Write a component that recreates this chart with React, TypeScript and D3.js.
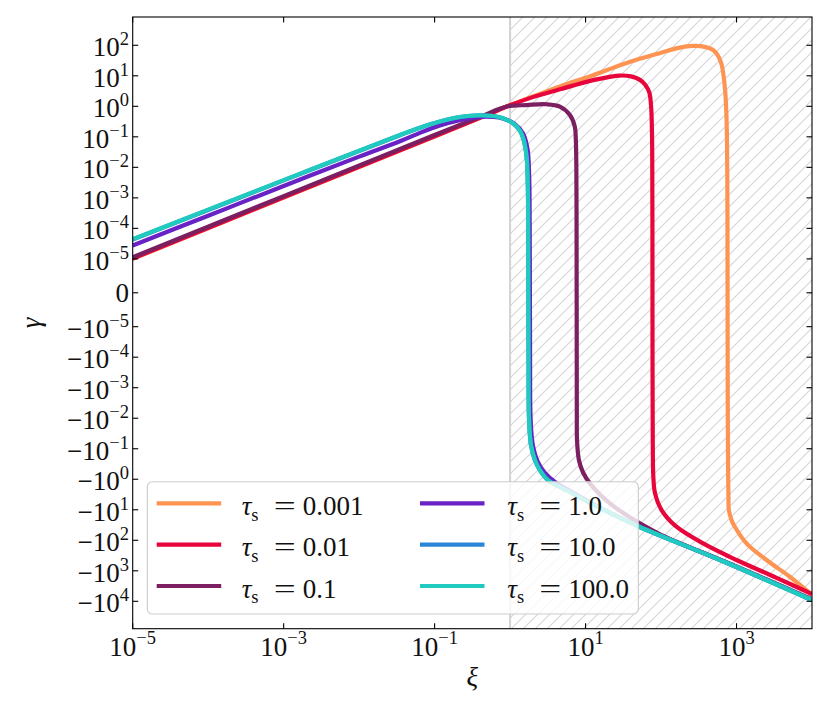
import React from "react";
import * as d3 from "d3";

type Pt = [number, number];

// values: [xi, gamma]
const TAU_LABELS = ["0.001", "0.01", "0.1", "1.0", "10.0", "100.0"];
const COLORS = ["#fe9452", "#e8053c", "#7b1f61", "#6822c6", "#2c86d8", "#20cabe"];

const tau0001: Pt[] = [
  [1e-5, 1.0e-5], [1e-3, 1.02e-3], [0.1, 0.103], [0.5, 0.53], [1, 1.1], [2, 2.1],
  [4.57, 4.5], [12.6, 10.5], [30, 23], [52, 36], [100, 57], [170, 82], [266, 95],
  [380, 89], [490, 70], [570, 45], [630, 25], [670, 11], [705, 3.5], [730, 0.8],
  [748, 0.08], [756, 3e-3], [760, 1e-5], [762, -1e-5], [765, -3e-3], [770, -0.08],
  [776, -1], [782, -4], [791, -10.2], [860, -22], [949, -35.9], [1355, -126], [2495, -443],
  [5080, -1563], [1e4, -6220],
];

const tau001: Pt[] = [
  [1e-5, 1.03e-5], [1e-3, 1.04e-3], [0.1, 0.104], [0.5, 0.53], [1, 1.08], [2, 2.0],
  [4.57, 3.6], [12.6, 7.2], [20, 9.0], [28, 10.2], [40, 9.6], [52, 7.5], [62, 5.0],
  [70, 2.8], [74, 0.9], [76, 0.1], [76.6, 5e-3], [76.9, 1e-4], [77.0, 0], [77.1, -1e-4],
  [77.4, -5e-3], [77.8, -0.1], [79, -0.8], [83.2, -2.89], [101.6, -10.2], [160, -35.9],
  [361, -126], [1000, -443], [3388, -1700], [1e4, -5800],
];

const tau01: Pt[] = [
  [1e-5, 1.13e-5], [1e-3, 1.14e-3], [0.1, 0.115], [0.4, 0.45], [0.9, 0.98], [1.66, 1.1],
  [3.04, 1.17], [4.57, 0.98], [6.2, 0.52], [7.21, 0.215], [7.43, 0.079], [7.55, 0.01],
  [7.6, 1e-4], [7.62, 0], [7.64, -1e-4], [7.66, -0.01], [7.7, -0.052], [8.16, -0.234],
  [9.2, -0.578], [11.4, -1.36], [21, -6.14], [52.4, -28], [100, -66], [1000, -720],
  [1e4, -8600],
];

const tau1: Pt[] = [
  [1e-5, 2.75e-5], [1e-4, 2.6e-4], [1e-3, 2.45e-3], [1e-2, 0.0225], [0.0347, 0.072],
  [0.0638, 0.135], [0.1175, 0.235], [0.216, 0.35], [0.4, 0.45], [0.6, 0.45], [0.8, 0.4],
  [1.14, 0.27], [1.48, 0.13], [1.7, 0.04], [1.79, 5e-3], [1.82, 1e-4], [1.83, 0],
  [1.84, -1e-4], [1.87, -0.01], [2.0, -0.075], [2.33, -0.27], [2.89, -0.62], [3.93, -1.23],
  [7.23, -3.0], [15.5, -8.5], [52.4, -36.5], [605, -443], [1e4, -9050],
];

const tau10: Pt[] = [
  [1e-5, 4.3e-5], [1e-4, 4.0e-4], [1e-3, 3.75e-3], [1e-2, 0.0345], [0.0347, 0.113],
  [0.0638, 0.198], [0.1175, 0.318], [0.216, 0.443], [0.4, 0.508], [0.73, 0.44], [1.09, 0.28],
  [1.35, 0.16], [1.52, 0.076], [1.66, 0.021], [1.72, 2.1e-3], [1.737, 1e-4], [1.747, 0],
  [1.757, -1e-4], [1.782, -0.01], [1.89, -0.076], [2.13, -0.236], [2.48, -0.5], [3.17, -1.06],
  [5.5, -2.25], [15.5, -8.7], [52.4, -36.6], [605, -443], [1e4, -9070],
];

const tau100: Pt[] = [
  [1e-5, 4.4e-5], [1e-4, 4.1e-4], [1e-3, 3.8e-3], [1e-2, 0.035], [0.0347, 0.115],
  [0.0638, 0.2], [0.1175, 0.32], [0.216, 0.445], [0.4, 0.51], [0.73, 0.44], [1.09, 0.28],
  [1.35, 0.16], [1.52, 0.075], [1.66, 0.02], [1.72, 2e-3], [1.735, 1e-4], [1.745, 0],
  [1.755, -1e-4], [1.78, -0.01], [1.89, -0.075], [2.13, -0.234], [2.48, -0.5], [3.17, -1.06],
  [5.5, -2.25], [15.5, -8.75], [52.4, -36.7], [605, -443], [1e4, -9080],
];

const SERIES = [tau0001, tau001, tau01, tau1, tau10, tau100];

const X_DOMAIN: [number, number] = [1e-5, 1e4];
const Y_DOMAIN: [number, number] = [-7.9e4, 845];
const X_TICK_EXPS = [-5, -3, -1, 1, 3];
const Y_POS_EXPS = [2, 1, 0, -1, -2, -3, -4, -5];
const Y_NEG_EXPS = [-5, -4, -3, -2, -1, 0, 1, 2, 3, 4];
const HATCH_FROM = 1;

// matplotlib-style symlog, linthresh 1e-5, linscale 1
const LINTHRESH = 1e-5;
const LINSCALE = 1 / (1 - 0.1);
const symlog = (v: number) => {
  const a = Math.abs(v);
  if (a <= LINTHRESH) return (v / LINTHRESH) * LINSCALE;
  return Math.sign(v) * (LINSCALE + Math.log10(a / LINTHRESH));
};

const FONT = "'Liberation Serif'";
const MINUS = "\u2212";
const fmtExp = (e: number) => (e < 0 ? MINUS + Math.abs(e) : String(e));

const App: React.FC = () => {
  const width = 830;
  const height = 712;
  const left = 132.7, right = 812, top = 17, bottom = 628.7;

  const x = d3.scaleLog().domain(X_DOMAIN).range([left, right]);
  const yLin = d3.scaleLinear().domain(Y_DOMAIN.map(symlog)).range([bottom, top]);
  const y = (v: number) => yLin(symlog(v));

  const line = d3
    .line<Pt>()
    .x(d => x(d[0]))
    .y(d => y(d[1]))
    .curve(d3.curveCatmullRom.alpha(0.5));

  const yTicks = [
    ...Y_POS_EXPS.map(e => ({ v: Math.pow(10, e), neg: false, e })),
    { v: 0, neg: false, e: null as number | null },
    ...Y_NEG_EXPS.map(e => ({ v: -Math.pow(10, e), neg: true, e })),
  ];

  const fontSize = 27;
  const supSize = 18.5;
  const tickLen = 5.5;

  // legend layout
  const lg = { x: 147.3, y: 481.7, w: 491, h: 132.3 };
  const rowY = [503.3, 544.6, 586];
  const cols = [{ hx: 156.7, tx: 241.7 }, { hx: 420, tx: 507.3 }];

  const txt = { fontFamily: FONT, fill: "#111" };

  return (
    <svg
      width={width}
      height={height}
      style={{ position: "absolute", left: 0, top: 0 }}
    >
      <defs>
        <clipPath id="plot">
          <rect x={left} y={top} width={right - left} height={bottom - top} />
        </clipPath>
        <pattern id="hatch" patternUnits="userSpaceOnUse" width={12} height={12}>
          <path
            d="M-3,3 L3,-3 M0,12 L12,0 M9,15 L15,9"
            stroke="#d6d6d6"
            strokeWidth={1.2}
          />
        </pattern>
      </defs>

      <rect x={0} y={0} width={width} height={height} fill="#fff" />

      {/* shaded region xi > 1 */}
      <rect
        x={x(HATCH_FROM)}
        y={top}
        width={right - x(HATCH_FROM)}
        height={bottom - top}
        fill="url(#hatch)"
      />
      <line
        x1={x(HATCH_FROM)}
        x2={x(HATCH_FROM)}
        y1={top}
        y2={bottom}
        stroke="#d2d2d2"
        strokeWidth={2}
      />

      <g clipPath="url(#plot)">
        {SERIES.map((s, i) => (
          <path
            key={i}
            d={line(s) || ""}
            fill="none"
            stroke={COLORS[i]}
            strokeWidth={4.2}
          />
        ))}
      </g>

      {/* frame */}
      <rect
        x={left}
        y={top}
        width={right - left}
        height={bottom - top}
        fill="none"
        stroke="#000"
        strokeWidth={1.1}
      />

      {/* x ticks */}
      {X_TICK_EXPS.map(e => {
        const px = x(Math.pow(10, e));
        return (
          <g key={"x" + e}>
            <line x1={px} x2={px} y1={bottom} y2={bottom - tickLen} stroke="#000" strokeWidth={1.1} />
            <line x1={px} x2={px} y1={top} y2={top + tickLen} stroke="#000" strokeWidth={1.1} />
            <text x={px} y={656} textAnchor="middle" fontSize={fontSize} style={txt}>
              10
              <tspan dy={-11.7} fontSize={supSize}>
                {fmtExp(e)}
              </tspan>
            </text>
          </g>
        );
      })}

      {/* y ticks */}
      {yTicks.map((t, i) => {
        const py = y(t.v);
        return (
          <g key={"y" + i}>
            <line x1={left} x2={left + tickLen} y1={py} y2={py} stroke="#000" strokeWidth={1.1} />
            <line x1={right} x2={right - tickLen} y1={py} y2={py} stroke="#000" strokeWidth={1.1} />
            {t.e === null ? (
              <text x={129} y={py + 9} textAnchor="end" fontSize={fontSize} style={txt}>
                0
              </text>
            ) : (
              <text x={129} y={py + 11} textAnchor="end" fontSize={fontSize} style={txt}>
                {(t.neg ? MINUS : "") + "10"}
                <tspan dy={-11} fontSize={supSize}>
                  {fmtExp(t.e)}
                </tspan>
              </text>
            )}
          </g>
        );
      })}

      {/* axis labels */}
      <text
        transform={`translate(40,${(top + bottom) / 2}) rotate(-90)`}
        textAnchor="middle"
        fontSize={fontSize}
        fontStyle="italic"
        style={txt}
      >
        γ
      </text>
      <text
        x={(left + right) / 2}
        y={686}
        textAnchor="middle"
        fontSize={fontSize}
        fontStyle="italic"
        style={txt}
      >
        ξ
      </text>

      {/* legend */}
      <rect
        x={lg.x}
        y={lg.y}
        width={lg.w}
        height={lg.h}
        rx={5}
        fill="#fff"
        fillOpacity={0.8}
        stroke="#cccccc"
        strokeWidth={1.1}
      />
      {TAU_LABELS.map((lab, i) => {
        const c = cols[Math.floor(i / 3)];
        const ry = rowY[i % 3];
        return (
          <g key={"lg" + i}>
            <line x1={c.hx} x2={c.hx + 64.5} y1={ry} y2={ry} stroke={COLORS[i]} strokeWidth={4.2} />
            <text x={c.tx} y={ry + 11.7} fontSize={fontSize} style={txt}>
              <tspan fontStyle="italic">τ</tspan>
              <tspan fontSize={supSize} dy={5.5}>s</tspan>
            </text>
            <text
              x={c.tx + 32}
              y={ry + 11.7}
              fontSize={fontSize}
              textLength={22}
              lengthAdjust="spacingAndGlyphs"
              style={txt}
            >
              =
            </text>
            <text x={c.tx + 61} y={ry + 11.7} fontSize={fontSize} style={txt}>
              {lab}
            </text>
          </g>
        );
      })}
    </svg>
  );
};

export default App;
